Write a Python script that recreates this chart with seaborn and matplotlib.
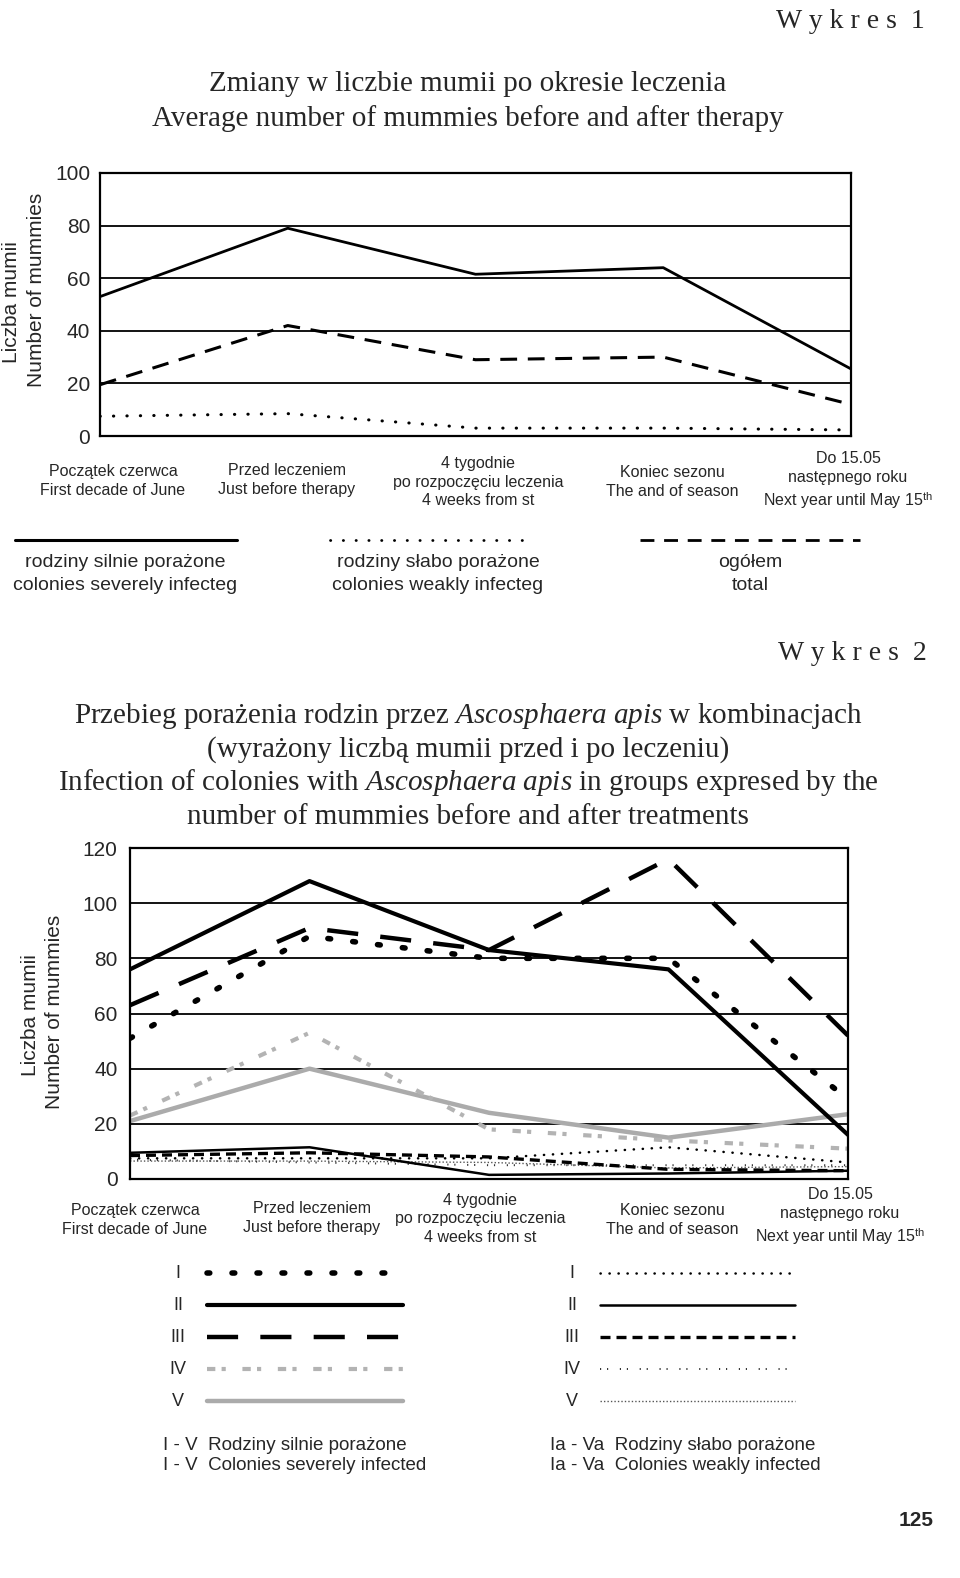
import matplotlib
matplotlib.use("Agg")
import matplotlib.pyplot as plt
from matplotlib.lines import Line2D
from matplotlib import font_manager
import pandas as pd
import seaborn as sns

# x axis: stages of the season
stages = [
    "Początek czerwca\nFirst decade of June",
    "Przed leczeniem\nJust before therapy",
    "4 tygodnie\npo rozpoczęciu leczenia\n4 weeks from st",
    "Koniec sezonu\nThe and of season",
    "Do 15.05\nnastępnego roku\nNext year until May 15$^{\\mathsf{th}}$",
]
stage_idx = [0, 1, 2, 3, 4]

# Wykres 1
severe = [53, 79, 61.5, 64, 25.5]
weak = [7.5, 8.5, 3, 3, 2.3]
total = [19.5, 42, 29, 30, 12]

# Wykres 2 - colonies severely infected
grp_I = [51, 88, 80, 80, 29]
grp_II = [76, 108, 83, 76, 16]
grp_III = [63, 91, 83, 116, 52]
grp_IV = [23, 53, 18, 14, 11]
grp_V = [21, 40, 24, 15, 23.5]
# Wykres 2 - colonies weakly infected
grp_Ia = [7.5, 7.5, 7.5, 11.5, 6]
grp_IIa = [9.5, 11.5, 1.5, 2, 3]
grp_IIIa = [8.5, 9.5, 8, 3.5, 3]
grp_IVa = [7, 6, 5, 5, 5]
grp_Va = [6.5, 6.5, 6, 4, 4.5]

sns.set_style("white")
names = {f.name for f in font_manager.fontManager.ttflist}
narrow = "Liberation Sans Narrow" if "Liberation Sans Narrow" in names else "Liberation Sans"
lab_size = 12.5 if narrow == "Liberation Sans Narrow" else 11.5
plt.rcParams["font.family"] = ["Liberation Sans", "DejaVu Sans"]
plt.rcParams["mathtext.fontset"] = "custom"
plt.rcParams["mathtext.rm"] = "Liberation Serif"
plt.rcParams["mathtext.it"] = "Liberation Serif:italic"
plt.rcParams["mathtext.sf"] = narrow

W, H = 960, 1578
fig = plt.figure(figsize=(W / 100, H / 100), dpi=100)
fig.patch.set_facecolor("white")


def fx(x):
    return x / W


def fy(y):
    return 1 - y / H


def style_axes(ax, ymax, step, pad):
    ax.set_xlim(0, 4)
    ax.set_ylim(0, ymax)
    ax.set_yticks(range(0, ymax + 1, step))
    ax.set_xticks([])
    ax.set_xlabel("")
    ax.set_ylabel("")
    ax.tick_params(axis="y", length=0, pad=pad, labelsize=15)
    ax.yaxis.grid(True, color="black", lw=1.3)
    for s in ax.spines.values():
        s.set_color("black")
        s.set_linewidth(1.6)


def legend_line(x0, x1, y, **kw):
    fig.add_artist(Line2D([fx(x0), fx(x1)], [fy(y), fy(y)], transform=fig.transFigure, **kw))


# ---------------- Wykres 1 ----------------
fig.text(fx(925), fy(28), "W y k r e s  1", family="Liberation Serif", fontsize=20,
         ha="right", va="baseline")
fig.text(fx(468), fy(91), "Zmiany w liczbie mumii po okresie leczenia",
         family="Liberation Serif", fontsize=21, ha="center", va="baseline")
fig.text(fx(468), fy(126), "Average number of mummies before and after therapy",
         family="Liberation Serif", fontsize=21, ha="center", va="baseline")

ax1 = fig.add_axes([fx(100), fy(436), (851 - 100) / W, (436 - 173) / H])
df1 = pd.DataFrame({"stage": stage_idx, "severe": severe, "weak": weak, "total": total})
sns.lineplot(data=df1, x="stage", y="severe", ax=ax1, color="black", lw=2.0)
sns.lineplot(data=df1, x="stage", y="total", ax=ax1, color="black", lw=2.2,
             linestyle=(0, (5.5, 3.5)))
sns.lineplot(data=df1, x="stage", y="weak", ax=ax1, color="black", lw=2.2,
             linestyle=(0, (0.1, 4.3)), dash_capstyle="round")
style_axes(ax1, 100, 20, 7)

fig.text(fx(12), fy(302), "Liczba mumii", rotation=90, fontsize=15, ha="center", va="center")
fig.text(fx(37), fy(290), "Number of mummies", rotation=90, fontsize=15, ha="center", va="center")

lab1_x = [113, 287, 478, 672, 848]
lab1_y = [481, 480, 482, 482, 481]
for lx, ly, lab in zip(lab1_x, lab1_y, stages):
    fig.text(fx(lx), fy(ly), lab, family=narrow, fontsize=lab_size, ha="center", va="center",
             linespacing=1.3)

legend_line(15, 237, 540, color="black", lw=2.2)
legend_line(330, 530, 540, color="black", lw=2.0, linestyle=(0, (0.1, 4.5)),
            dash_capstyle="round")
legend_line(640, 860, 540, color="black", lw=2.0, linestyle=(0, (5, 3.5)))
leg1 = [(125, "rodziny silnie porażone", "colonies severely infecteg"),
        (438, "rodziny słabo porażone", "colonies weakly infecteg"),
        (750, "ogółem", "total")]
for lx, l1, l2 in leg1:
    fig.text(fx(lx), fy(563), l1, fontsize=14, ha="center", va="center")
    fig.text(fx(lx), fy(585), l2, fontsize=14, ha="center", va="center")

# ---------------- Wykres 2 ----------------
fig.text(fx(927), fy(660), "W y k r e s  2", family="Liberation Serif", fontsize=20,
         ha="right", va="baseline")
title2 = [
    "Przebieg porażenia rodzin przez $\\mathit{Ascosphaera\\ apis}$ w kombinacjach",
    "(wyrażony liczbą mumii przed i po leczeniu)",
    "Infection of colonies with $\\mathit{Ascosphaera\\ apis}$ in groups expresed by the",
    "number of mummies before and after treatments",
]
for i, line in enumerate(title2):
    fig.text(fx(468), fy(723 + i * 33.5), line, family="Liberation Serif", fontsize=21,
             ha="center", va="baseline")

ax2 = fig.add_axes([fx(130), fy(1179), (848 - 130) / W, (1179 - 848) / H])
df2 = pd.DataFrame({"stage": stage_idx, "I": grp_I, "II": grp_II, "III": grp_III,
                    "IV": grp_IV, "V": grp_V, "Ia": grp_Ia, "IIa": grp_IIa,
                    "IIIa": grp_IIIa, "IVa": grp_IVa, "Va": grp_Va})

styles2 = {
    "V": dict(color="#ababab", lw=3.2),
    "IV": dict(color="#b3b3b3", lw=3.0, linestyle=(0, (2, 1.5, 1, 4))),
    "Va": dict(color="#555555", lw=1.0, linestyle=(0, (1, 1.5))),
    "IVa": dict(color="#333333", lw=1.4, linestyle=(0, (0.6, 3, 0.6, 6))),
    "IIa": dict(color="black", lw=1.8),
    "IIIa": dict(color="black", lw=2.4, linestyle=(0, (3, 1.8))),
    "Ia": dict(color="black", lw=1.8, linestyle=(0, (0.1, 3.5)), dash_capstyle="round"),
    "I": dict(color="black", lw=4.0, linestyle=(0, (0.5, 4)), dash_capstyle="round"),
    "III": dict(color="black", lw=3.2, linestyle=(0, (7, 5))),
    "II": dict(color="black", lw=3.0),
}
for key, kw in styles2.items():
    sns.lineplot(data=df2, x="stage", y=key, ax=ax2, **kw)
style_axes(ax2, 120, 20, 9)

fig.text(fx(30), fy(1015), "Liczba mumii", rotation=90, fontsize=15, ha="center", va="center")
fig.text(fx(55), fy(1012), "Number of mummies", rotation=90, fontsize=15, ha="center", va="center")

lab2_x = [135, 312, 480, 672, 840]
lab2_y = [1220, 1218, 1219, 1220, 1217]
for lx, ly, lab in zip(lab2_x, lab2_y, stages):
    fig.text(fx(lx), fy(ly), lab, family=narrow, fontsize=lab_size, ha="center", va="center",
             linespacing=1.3)

roman = ["I", "II", "III", "IV", "V"]
left_keys = ["I", "II", "III", "IV", "V"]
right_keys = ["Ia", "IIa", "IIIa", "IVa", "Va"]
for i, (rn, lk, rk) in enumerate(zip(roman, left_keys, right_keys)):
    y = 1273 + i * 32
    fig.text(fx(178), fy(y), rn, fontsize=13, ha="center", va="center")
    fig.text(fx(572), fy(y), rn, fontsize=13, ha="center", va="center")
    legend_line(207, 403, y, **styles2[lk])
    legend_line(600, 795, y, **styles2[rk])

fig.text(fx(163), fy(1446), "I - V  Rodziny silnie porażone", fontsize=13.5, ha="left", va="center")
fig.text(fx(163), fy(1466), "I - V  Colonies severely infected", fontsize=13.5, ha="left", va="center")
fig.text(fx(550), fy(1446), "Ia - Va  Rodziny słabo porażone", fontsize=13.5, ha="left", va="center")
fig.text(fx(550), fy(1466), "Ia - Va  Colonies weakly infected", fontsize=13.5, ha="left", va="center")

fig.text(fx(934), fy(1520), "125", fontsize=15, weight="bold", ha="right", va="center")

fig.savefig("out.png", dpi=100, facecolor="white")
